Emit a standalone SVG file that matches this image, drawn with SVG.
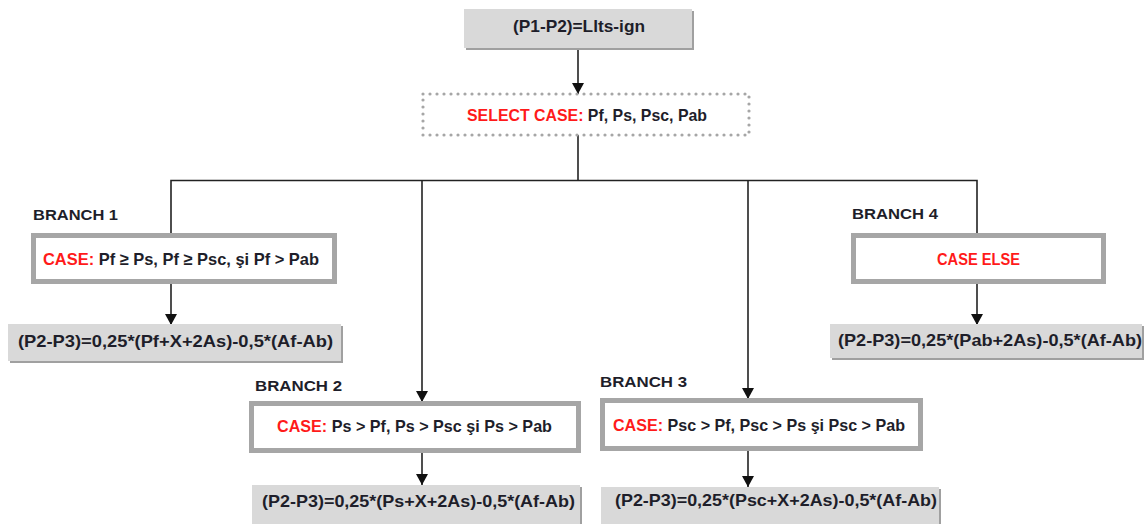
<svg xmlns="http://www.w3.org/2000/svg" width="1146" height="524" viewBox="0 0 1146 524">
  <defs>
    <marker id="arrow" markerUnits="userSpaceOnUse" markerWidth="13" markerHeight="13" refX="11" refY="6.5" orient="auto">
      <path d="M0,0.5 L11,6.5 L0,12.5 z" fill="#111"/>
    </marker>
    <style>
      text { font-family: "Liberation Sans", Arial, sans-serif; font-weight: bold; fill: #1e1e2a; }
      .t { font-size: 17px; }
      .lbl { font-size: 14.5px; }
      .red { fill: #ff1a1a; }
      .calc { fill: #d9d9d9; }
      .shadow { fill: #a0a0a0; }
      .case { fill: #ffffff; stroke: #a6a6a6; stroke-width: 5; }
      .sel { fill: #ffffff; stroke: #a6a6a6; stroke-width: 3.2; stroke-linecap: round; stroke-dasharray: 0 7; }
      .conn { stroke: #222; stroke-width: 1.6; fill: none; }
    </style>
  </defs>

  <rect width="1146" height="524" fill="#ffffff"/>

  <!-- connectors -->
  <g id="connectors">
    <line class="conn" x1="578" y1="49" x2="578" y2="94" marker-end="url(#arrow)"/>
    <line class="conn" x1="578" y1="135" x2="578" y2="180.5"/>
    <polyline class="conn" points="171,234 171,180.5 977,180.5 977,234"/>
    <line class="conn" x1="171" y1="236" x2="171" y2="234" marker-end="url(#arrow)"/>
    <line class="conn" x1="422" y1="180.5" x2="422" y2="402" marker-end="url(#arrow)"/>
    <line class="conn" x1="748" y1="180.5" x2="748" y2="399" marker-end="url(#arrow)"/>
    <line class="conn" x1="977" y1="236" x2="977" y2="234" marker-end="url(#arrow)"/>
    <line class="conn" x1="171" y1="284" x2="171" y2="325" marker-end="url(#arrow)"/>
    <line class="conn" x1="977" y1="284" x2="977" y2="325" marker-end="url(#arrow)"/>
    <line class="conn" x1="422" y1="453" x2="422" y2="485" marker-end="url(#arrow)"/>
    <line class="conn" x1="748" y1="451" x2="748" y2="487" marker-end="url(#arrow)"/>
  </g>

  <!-- start node -->
  <g id="start">
    <rect class="shadow" x="466" y="11" width="228" height="39"/>
    <rect class="calc" x="464" y="9" width="228" height="39"/>
    <text class="t" x="513" y="32" textLength="132" lengthAdjust="spacingAndGlyphs">(P1-P2)=Llts-ign</text>
  </g>

  <!-- select node -->
  <g id="select">
    <rect class="sel" x="423" y="94" width="326" height="41"/>
    <text class="t" x="467" y="121" textLength="240" lengthAdjust="spacingAndGlyphs"><tspan class="red">SELECT CASE:</tspan> Pf, Ps, Psc, Pab</text>
  </g>

  <!-- branch 1 -->
  <g id="branch1">
    <text class="lbl" x="33" y="220" textLength="85" lengthAdjust="spacingAndGlyphs">BRANCH  1</text>
    <rect class="case" x="33.5" y="235.5" width="301" height="46"/>
    <text class="t" x="43" y="265" textLength="276" lengthAdjust="spacingAndGlyphs"><tspan class="red">CASE:</tspan> Pf ≥ Ps, Pf ≥ Psc, şi Pf &gt; Pab</text>
  </g>
  <g id="calc1">
    <rect class="shadow" x="10" y="326" width="333" height="37"/>
    <rect class="calc" x="8" y="324" width="333" height="37"/>
    <text class="t" x="18" y="347" textLength="315" lengthAdjust="spacingAndGlyphs">(P2-P3)=0,25*(Pf+X+2As)-0,5*(Af-Ab)</text>
  </g>

  <!-- branch 2 -->
  <g id="branch2">
    <text class="lbl" x="255" y="391" textLength="87" lengthAdjust="spacingAndGlyphs">BRANCH  2</text>
    <rect class="case" x="251.5" y="403.5" width="327" height="47"/>
    <text class="t" x="277" y="432" textLength="275" lengthAdjust="spacingAndGlyphs"><tspan class="red">CASE:</tspan> Ps &gt; Pf, Ps &gt; Psc şi Ps &gt; Pab</text>
  </g>
  <g id="calc2">
    <rect class="shadow" x="254" y="487" width="328" height="45"/>
    <rect class="calc" x="252" y="485" width="328" height="45"/>
    <text class="t" x="262" y="507" textLength="313" lengthAdjust="spacingAndGlyphs">(P2-P3)=0,25*(Ps+X+2As)-0,5*(Af-Ab)</text>
  </g>

  <!-- branch 3 -->
  <g id="branch3">
    <text class="lbl" x="600" y="387" textLength="87" lengthAdjust="spacingAndGlyphs">BRANCH  3</text>
    <rect class="case" x="602.5" y="400.5" width="318" height="48"/>
    <text class="t" x="613" y="431" textLength="292" lengthAdjust="spacingAndGlyphs"><tspan class="red">CASE:</tspan> Psc &gt; Pf, Psc &gt; Ps şi Psc &gt; Pab</text>
  </g>
  <g id="calc3">
    <rect class="shadow" x="603" y="489" width="338" height="45"/>
    <rect class="calc" x="601" y="487" width="338" height="45"/>
    <text class="t" x="615" y="506" textLength="322" lengthAdjust="spacingAndGlyphs">(P2-P3)=0,25*(Psc+X+2As)-0,5*(Af-Ab)</text>
  </g>

  <!-- branch 4 -->
  <g id="branch4">
    <text class="lbl" x="852" y="219" textLength="86" lengthAdjust="spacingAndGlyphs">BRANCH  4</text>
    <rect class="case" x="853.5" y="235.5" width="250" height="46"/>
    <text class="t red" x="937" y="265" textLength="83" lengthAdjust="spacingAndGlyphs">CASE ELSE</text>
  </g>
  <g id="calc4">
    <rect class="shadow" x="832" y="326" width="312" height="34"/>
    <rect class="calc" x="830" y="324" width="312" height="34"/>
    <text class="t" x="838" y="346" textLength="304" lengthAdjust="spacingAndGlyphs">(P2-P3)=0,25*(Pab+2As)-0,5*(Af-Ab)</text>
  </g>
</svg>
